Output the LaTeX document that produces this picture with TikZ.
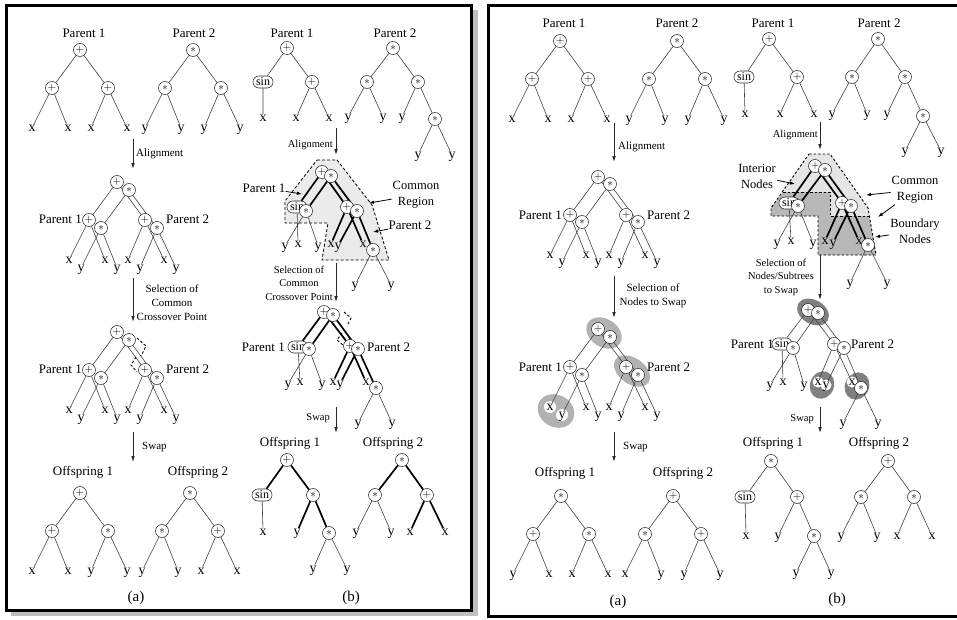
\documentclass[tikz,border=0pt]{standalone}
\usepackage{fontspec}
\setmainfont{Liberation Serif}
\usetikzlibrary{arrows.meta,calc,shapes.misc}
\pgfdeclarelayer{shade}
\pgfdeclarelayer{wires}
\pgfsetlayers{shade,wires,main}

\newcommand\Pl{$+$}
\newcommand\As{$\ast$}

\tikzset{
  op/.style={circle,draw=black!85,fill=white,line width=0.55pt,inner sep=0pt,minimum size=13pt,font=\fontsize{11}{11}\selectfont},
  sinop/.style={rounded rectangle,draw=black!85,fill=white,line width=0.55pt,inner xsep=1.5pt,inner ysep=0pt,minimum height=12pt,minimum width=20pt,font=\fontsize{12}{12}\selectfont},
  lf/.style={inner sep=0.8pt,text height=6pt,text depth=0pt,font=\fontsize{14}{14}\selectfont},
  ttl/.style={inner sep=0pt,font=\fontsize{13}{15}\selectfont},
  panelcap/.style={inner sep=0pt,font=\fontsize{15}{17}\selectfont},
  stepnote/.style={inner sep=0pt,align=center,font=\fontsize{11}{14}\selectfont},
  stepnoteb/.style={inner sep=0pt,align=center,font=\fontsize{10.5}{13.5}\selectfont},
  annot/.style={inner sep=1pt,align=center,font=\fontsize{12.5}{16}\selectfont},
  ln/.style={draw=black!75,line width=0.6pt},
  heavy/.style={draw=black,line width=1.7pt},
  stagearrow/.style={draw=black!85,line width=0.8pt,-{Latex[length=6pt,width=3.6pt]}},
  pointer/.style={draw=black,line width=0.8pt,-{Latex[length=5pt,width=3.5pt]}},
  commonreg/.style={fill=black!8,draw=black,line width=0.8pt,dash pattern=on 3pt off 2pt},
  crossmark/.style={draw=black,line width=0.9pt,dash pattern=on 2.5pt off 2pt},
  selA/.style={fill=black!30},
  selB/.style={fill=black!50},
}

% full binary tree of depth two: prefix, root x, root y, three operators, four leaves
\newcommand\stdleaves[7]{%
  \node[lf] (#1l1) at ($(#2,#3)+(-48,78)$) {#4};
  \node[lf] (#1l2) at ($(#2,#3)+(-12,78)$) {#5};
  \node[lf] (#1l3) at ($(#2,#3)+(11,78)$) {#6};
  \node[lf] (#1l4) at ($(#2,#3)+(47,78)$) {#7};
}
\newcommand\stdtree[7]{%
  \node[op] (#1r) at (#2,#3) {#4};
  \node[op] (#1a) at ($(#2,#3)+(-28,38)$) {#5};
  \node[op] (#1b) at ($(#2,#3)+(28,38)$) {#6};
  \stdleaves{#1}{#2}{#3}#7
  \begin{pgfonlayer}{wires}
    \draw[ln] (#1r)--(#1a) (#1r)--(#1b) (#1a)--(#1l1) (#1a)--(#1l2) (#1b)--(#1l3) (#1b)--(#1l4);
  \end{pgfonlayer}
}

\begin{document}
\begin{tikzpicture}[x=1pt,y=-1pt]
\useasboundingbox (0,0) rectangle (957,619);

% ---------- panel frames ----------
\fill[black!25] (473,10) rectangle (478,615);
\fill[black!25] (11,611.5) rectangle (478,616);
\draw[line width=3pt] (6.5,5.5) rectangle (471.5,610);
\draw[line width=3pt] (962,5.5) -- (488.5,5.5) -- (488.5,616.5) -- (962,616.5);

% =====================================================
% Left panel, column (a)
% =====================================================
\node[ttl] (la1t1) at (84,33) {Parent 1};
\node[ttl] (la1t2) at (194,33) {Parent 2};
\stdtree{la1p}{80}{50}{\Pl}{\Pl}{\Pl}{{x}{x}{x}{x}}
\stdtree{la1q}{193}{50}{\As}{\As}{\As}{{y}{y}{y}{y}}

\coordinate (laA1) at (133,139); \coordinate (laA2) at (133,169);
\draw[stagearrow] (laA1) -- (laA2);
\node[stepnote,anchor=west] (laAl) at (136,154) {Alignment};

\stdtree{la2p}{117}{182}{\Pl}{\Pl}{\Pl}{{x}{x}{x}{x}}
\stdtree{la2q}{129}{190}{\As}{\As}{\As}{{y}{y}{y}{y}}
\node[ttl,anchor=east] (la2t1) at (82,219) {Parent 1};
\node[ttl,anchor=west] (la2t2) at (166,219) {Parent 2};

\coordinate (laB1) at (133,278); \coordinate (laB2) at (133,322);
\draw[stagearrow] (laB1) -- (laB2);
\node[stepnote] (laBl) at (172,303) {Selection of\\Common\\Crossover Point};

\stdtree{la3p}{117}{332}{\Pl}{\Pl}{\Pl}{{x}{x}{x}{x}}
\stdtree{la3q}{129}{340}{\As}{\As}{\As}{{y}{y}{y}{y}}
\node[ttl,anchor=east] (la3t1) at (82,369) {Parent 1};
\node[ttl,anchor=west] (la3t2) at (166,369) {Parent 2};
\draw[crossmark] (137,338) -- (146,346) -- (141,356);
\draw[crossmark] (136,357) -- (131,365) -- (137,372);

\coordinate (laC1) at (133,432); \coordinate (laC2) at (133,462);
\draw[stagearrow] (laC1) -- (laC2);
\node[stepnote,anchor=west] (laCl) at (142,447) {Swap};

\node[ttl] (la4t1) at (83,472) {Offspring 1};
\node[ttl] (la4t2) at (198,472) {Offspring 2};
\stdtree{la4p}{80}{493}{\Pl}{\Pl}{\As}{{x}{x}{y}{y}}
\stdtree{la4q}{190}{493}{\As}{\As}{\Pl}{{y}{y}{x}{x}}
\node[panelcap] (laCap) at (136,598) {(a)};

% =====================================================
% Left panel, column (b)
% =====================================================
\node[ttl] (lb1t1) at (292,33) {Parent 1};
\node[ttl] (lb1t2) at (395,33) {Parent 2};
\node[op] (lb1pr) at (287,48) {\Pl};
\node[sinop] (lb1ps) at (263,82) {sin};
\node[op] (lb1pb) at (312,82) {\Pl};
\node[lf] (lb1px1) at (263,118) {x};
\node[lf] (lb1px2) at (296,118) {x};
\node[lf] (lb1px3) at (329,118) {x};
\node[op] (lb1qr) at (393,48) {\As};
\node[op] (lb1qa) at (367,82) {\As};
\node[op] (lb1qb) at (418,82) {\As};
\node[op] (lb1qc) at (435,119) {\As};
\node[lf] (lb1qy1) at (348,117) {y};
\node[lf] (lb1qy2) at (383,117) {y};
\node[lf] (lb1qy3) at (402,117) {y};
\node[lf] (lb1qy4) at (418,155) {y};
\node[lf] (lb1qy5) at (452,155) {y};
\begin{pgfonlayer}{wires}
\draw[ln] (lb1pr)--(lb1ps) (lb1pr)--(lb1pb) (lb1ps)--(lb1px1) (lb1pb)--(lb1px2) (lb1pb)--(lb1px3)
  (lb1qr)--(lb1qa) (lb1qr)--(lb1qb) (lb1qa)--(lb1qy1) (lb1qa)--(lb1qy2) (lb1qb)--(lb1qy3)
  (lb1qb)--(lb1qc) (lb1qc)--(lb1qy4) (lb1qc)--(lb1qy5);
\end{pgfonlayer}

\coordinate (lbA1) at (336,128); \coordinate (lbA2) at (336,155);
\draw[stagearrow] (lbA1) -- (lbA2);
\node[stepnoteb,anchor=east] (lbAl) at (333,145) {Alignment};

% aligned parents with the common region
\begin{pgfonlayer}{shade}
\filldraw[commonreg] (317,160) -- (337,160) -- (372,205) -- (389,260) -- (322,260) -- (328,223)
  -- (285,223) -- (285,201) -- cycle;
\end{pgfonlayer}
\node[op] (lb2pr) at (322,172) {\Pl};
\node[sinop] (lb2ps) at (297,207) {sin};
\node[op] (lb2pb) at (347,207) {\Pl};
\node[lf] (lb2px1) at (298,244) {x};
\node[lf] (lb2px2) at (331,244) {x};
\node[lf] (lb2px3) at (363,244) {x};
\node[op] (lb2qr) at (331,176) {\As};
\node[op] (lb2qa) at (306,211) {\As};
\node[op] (lb2qb) at (357,211) {\As};
\node[op] (lb2qc) at (373,250) {\As};
\node[lf] (lb2qy1) at (285,246) {y};
\node[lf] (lb2qy2) at (318,246) {y};
\node[lf] (lb2qy3) at (338,246) {y};
\node[lf] (lb2qy4) at (355,285) {y};
\node[lf] (lb2qy5) at (391,285) {y};
\begin{pgfonlayer}{wires}
\draw[ln] (lb2ps)--(lb2px1) (lb2qa)--(lb2qy1) (lb2qa)--(lb2qy2) (lb2qc)--(lb2qy4) (lb2qc)--(lb2qy5);
\draw[heavy] (lb2pr)--(lb2ps) (lb2pr)--(lb2pb) (lb2pb)--(lb2px2) (lb2pb)--(lb2px3)
  (lb2qr)--(lb2qa) (lb2qr)--(lb2qb) (lb2qb)--(lb2qy3) (lb2qb)--(lb2qc);
\end{pgfonlayer}
\node[ttl] (lb2n1) at (264,188) {Parent 1};
\coordinate (lb2n1t) at (302,194);
\draw[pointer] (lb2n1) -- (lb2n1t);
\node[annot] (lb2n2) at (416,195) {Common\\Region};
\coordinate (lb2n2t) at (369,203);
\draw[pointer] (lb2n2) -- (lb2n2t);
\node[ttl] (lb2n3) at (410,225) {Parent 2};
\coordinate (lb2n3t) at (373,232);
\draw[pointer] (lb2n3) -- (lb2n3t);

\coordinate (lbB1) at (336,263); \coordinate (lbB2) at (336,302);
\draw[stagearrow] (lbB1) -- (lbB2);
\node[stepnoteb] (lbBl) at (299,283) {Selection of\\Common\\Crossover Point};

% crossover point chosen
\node[op] (lb3pr) at (324,312) {\Pl};
\node[sinop] (lb3ps) at (298,347) {sin};
\node[op] (lb3pb) at (350,346) {\Pl};
\node[lf] (lb3px1) at (300,382) {x};
\node[lf] (lb3px2) at (333,382) {x};
\node[lf] (lb3px3) at (366,382) {x};
\node[op] (lb3qr) at (333,315) {\As};
\node[op] (lb3qa) at (309,349) {\As};
\node[op] (lb3qb) at (358,349) {\As};
\node[op] (lb3qc) at (376,388) {\As};
\node[lf] (lb3qy1) at (288,384) {y};
\node[lf] (lb3qy2) at (322,384) {y};
\node[lf] (lb3qy3) at (340,384) {y};
\node[lf] (lb3qy4) at (358,423) {y};
\node[lf] (lb3qy5) at (392,423) {y};
\begin{pgfonlayer}{wires}
\draw[ln] (lb3ps)--(lb3px1) (lb3qa)--(lb3qy1) (lb3qa)--(lb3qy2) (lb3qc)--(lb3qy4) (lb3qc)--(lb3qy5);
\draw[heavy] (lb3pr)--(lb3ps) (lb3pr)--(lb3pb) (lb3pb)--(lb3px2) (lb3pb)--(lb3px3)
  (lb3qr)--(lb3qa) (lb3qr)--(lb3qb) (lb3qb)--(lb3qy3) (lb3qb)--(lb3qc);
\end{pgfonlayer}
\node[ttl,anchor=east] (lb3t1) at (285,347) {Parent 1};
\node[ttl,anchor=west] (lb3t2) at (367,347) {Parent 2};
\draw[crossmark] (344,312) -- (351,318) -- (347,326);
\draw[crossmark] (342,333) -- (337,340) -- (343,345);

\coordinate (lbC1) at (336,407); \coordinate (lbC2) at (336,433);
\draw[stagearrow] (lbC1) -- (lbC2);
\node[stepnoteb,anchor=east] (lbCl) at (330,418) {Swap};

\node[ttl] (lb4t1) at (290,443) {Offspring 1};
\node[ttl] (lb4t2) at (393,443) {Offspring 2};
\node[op] (lb4pr) at (287,460) {\Pl};
\node[sinop] (lb4ps) at (262,495) {sin};
\node[op] (lb4pb) at (313,495) {\As};
\node[lf] (lb4px) at (263,532) {x};
\node[lf] (lb4py1) at (297,532) {y};
\node[op] (lb4pc) at (329,533) {\As};
\node[lf] (lb4py2) at (313,569) {y};
\node[lf] (lb4py3) at (347,569) {y};
\node[op] (lb4qr) at (402,460) {\As};
\node[op] (lb4qa) at (375,495) {\As};
\node[op] (lb4qb) at (427,495) {\Pl};
\node[lf] (lb4qy1) at (356,532) {y};
\node[lf] (lb4qy2) at (391,532) {y};
\node[lf] (lb4qx1) at (410,532) {x};
\node[lf] (lb4qx2) at (445,532) {x};
\begin{pgfonlayer}{wires}
\draw[ln] (lb4ps)--(lb4px) (lb4pc)--(lb4py2) (lb4pc)--(lb4py3) (lb4qa)--(lb4qy1) (lb4qa)--(lb4qy2);
\draw[heavy] (lb4pr)--(lb4ps) (lb4pr)--(lb4pb) (lb4pb)--(lb4py1) (lb4pb)--(lb4pc)
  (lb4qr)--(lb4qa) (lb4qr)--(lb4qb) (lb4qb)--(lb4qx1) (lb4qb)--(lb4qx2);
\end{pgfonlayer}
\node[panelcap] (lbCap) at (351,598) {(b)};

% =====================================================
% Right panel, column (a)
% =====================================================
\node[ttl] (ra1t1) at (564,23) {Parent 1};
\node[ttl] (ra1t2) at (677,23) {Parent 2};
\stdtree{ra1p}{560}{41}{\Pl}{\Pl}{\Pl}{{x}{x}{x}{x}}
\stdtree{ra1q}{677}{41}{\As}{\As}{\As}{{y}{y}{y}{y}}

\coordinate (raA1) at (614,123); \coordinate (raA2) at (614,162);
\draw[stagearrow] (raA1) -- (raA2);
\node[stepnote,anchor=west] (raAl) at (618,147) {Alignment};

\stdtree{ra2p}{598}{177}{\Pl}{\Pl}{\Pl}{{x}{x}{x}{x}}
\stdtree{ra2q}{610}{184}{\As}{\As}{\As}{{y}{y}{y}{y}}
\node[ttl,anchor=east] (ra2t1) at (562,215) {Parent 1};
\node[ttl,anchor=west] (ra2t2) at (647,215) {Parent 2};

\coordinate (raB1) at (614,276); \coordinate (raB2) at (614,318);
\draw[stagearrow] (raB1) -- (raB2);
\node[stepnote] (raBl) at (653,296) {Selection of\\Nodes to Swap};

% nodes picked for swapping
\begin{pgfonlayer}{shade}
\fill[selA,rotate around={-33:(604,333)}] (604,333) ellipse [x radius=19pt,y radius=14pt];
\fill[selA,rotate around={-35:(632,371)}] (632,371) ellipse [x radius=20pt,y radius=13pt];
\fill[selA,rotate around={-30:(556,411)}] (556,411) ellipse [x radius=19pt,y radius=16pt];
\fill[white] (550,407) circle (6pt) (562,415) circle (6pt);
\end{pgfonlayer}
\stdtree{ra3p}{598}{329}{\Pl}{\Pl}{\Pl}{{x}{x}{x}{x}}
\stdtree{ra3q}{610}{337}{\As}{\As}{\As}{{y}{y}{y}{y}}
\node[ttl,anchor=east] (ra3t1) at (562,367) {Parent 1};
\node[ttl,anchor=west] (ra3t2) at (647,367) {Parent 2};

\coordinate (raC1) at (614,432); \coordinate (raC2) at (614,462);
\draw[stagearrow] (raC1) -- (raC2);
\node[stepnote,anchor=west] (raCl) at (623,447) {Swap};

\node[ttl] (ra4t1) at (565,473) {Offspring 1};
\node[ttl] (ra4t2) at (683,473) {Offspring 2};
\stdtree{ra4p}{561}{496}{\As}{\Pl}{\As}{{y}{x}{x}{x}}
\stdtree{ra4q}{673}{496}{\Pl}{\As}{\Pl}{{x}{y}{y}{y}}
\node[panelcap] (raCap) at (618,602) {(a)};

% =====================================================
% Right panel, column (b)
% =====================================================
\node[ttl] (rb1t1) at (773,23) {Parent 1};
\node[ttl] (rb1t2) at (879,23) {Parent 2};
\node[op] (rb1pr) at (769,39) {\Pl};
\node[sinop] (rb1ps) at (744,77) {sin};
\node[op] (rb1pb) at (797,77) {\Pl};
\node[lf] (rb1px1) at (745,114) {x};
\node[lf] (rb1px2) at (780,114) {x};
\node[lf] (rb1px3) at (814,114) {x};
\node[op] (rb1qr) at (878,39) {\As};
\node[op] (rb1qa) at (852,77) {\As};
\node[op] (rb1qb) at (905,77) {\As};
\node[op] (rb1qc) at (923,116) {\As};
\node[lf] (rb1qy1) at (832,114) {y};
\node[lf] (rb1qy2) at (867,114) {y};
\node[lf] (rb1qy3) at (887,114) {y};
\node[lf] (rb1qy4) at (905,151) {y};
\node[lf] (rb1qy5) at (941,151) {y};
\begin{pgfonlayer}{wires}
\draw[ln] (rb1pr)--(rb1ps) (rb1pr)--(rb1pb) (rb1ps)--(rb1px1) (rb1pb)--(rb1px2) (rb1pb)--(rb1px3)
  (rb1qr)--(rb1qa) (rb1qr)--(rb1qb) (rb1qa)--(rb1qy1) (rb1qa)--(rb1qy2) (rb1qb)--(rb1qy3)
  (rb1qb)--(rb1qc) (rb1qc)--(rb1qy4) (rb1qc)--(rb1qy5);
\end{pgfonlayer}

\coordinate (rbA1) at (820,122); \coordinate (rbA2) at (820,150);
\draw[stagearrow] (rbA1) -- (rbA2);
\node[stepnoteb,anchor=east] (rbAl) at (818,135) {Alignment};

% common region split into interior and boundary parts
\begin{pgfonlayer}{shade}
\fill[black!10] (809,154) -- (830,154) -- (868,208) -- (876,255) -- (818,255) -- (818,216)
  -- (771,216) -- (771,208) -- cycle;
\fill[black!28] (783,192) -- (830,192) -- (830,216) -- (771,216) -- (771,208) -- cycle;
\fill[black!28] (818,216) -- (869,216) -- (876,255) -- (818,255) -- cycle;
\draw[crossmark] (809,154) -- (830,154) -- (868,208) -- (876,255) -- (818,255) -- (818,216)
  -- (771,216) -- (771,208) -- cycle;
\draw[crossmark] (783,192) -- (830,192) -- (830,216) -- (869,216);
\end{pgfonlayer}
\node[op] (rb2pr) at (815,166) {\Pl};
\node[sinop] (rb2ps) at (789,203) {sin};
\node[op] (rb2pb) at (842,203) {\Pl};
\node[lf] (rb2px1) at (791,241) {x};
\node[lf] (rb2px2) at (825,241) {x};
\node[lf] (rb2px3) at (859,241) {x};
\node[op] (rb2qr) at (825,170) {\As};
\node[op] (rb2qa) at (798,206) {\As};
\node[op] (rb2qb) at (851,206) {\As};
\node[op] (rb2qc) at (868,245) {\As};
\node[lf] (rb2qy1) at (777,243) {y};
\node[lf] (rb2qy2) at (813,243) {y};
\node[lf] (rb2qy3) at (833,243) {y};
\node[lf] (rb2qy4) at (850,283) {y};
\node[lf] (rb2qy5) at (887,283) {y};
\begin{pgfonlayer}{wires}
\draw[ln] (rb2ps)--(rb2px1) (rb2qa)--(rb2qy1) (rb2qa)--(rb2qy2) (rb2qc)--(rb2qy4) (rb2qc)--(rb2qy5);
\draw[heavy] (rb2pr)--(rb2ps) (rb2pr)--(rb2pb) (rb2pb)--(rb2px2) (rb2pb)--(rb2px3)
  (rb2qr)--(rb2qa) (rb2qr)--(rb2qb) (rb2qb)--(rb2qy3) (rb2qb)--(rb2qc);
\end{pgfonlayer}
\node[annot] (rb2n1) at (757,176) {Interior\\Nodes};
\coordinate (rb2n1t) at (795,184);
\draw[pointer] (rb2n1) -- (rb2n1t);
\node[annot] (rb2n2) at (915,190) {Common\\Region};
\coordinate (rb2n2t) at (866,195);
\coordinate (rb2n2u) at (878,217);
\draw[pointer] (rb2n2) -- (rb2n2t);
\draw[pointer] (rb2n2) -- (rb2n2u);
\node[annot] (rb2n3) at (915,231) {Boundary\\Nodes};
\coordinate (rb2n3t) at (875,237);
\draw[pointer] (rb2n3) -- (rb2n3t);

\coordinate (rbB1) at (820,255); \coordinate (rbB2) at (820,300);
\draw[stagearrow] (rbB1) -- (rbB2);
\node[stepnoteb] (rbBl) at (781,277) {Selection of\\Nodes/Subtrees\\to Swap};

% nodes and subtrees picked for swapping
\begin{pgfonlayer}{shade}
\fill[selB,rotate around={-30:(813,312)}] (813,312) ellipse [x radius=17pt,y radius=12pt];
\fill[selB,rotate around={-20:(822,385)}] (822,385) ellipse [x radius=12pt,y radius=14pt];
\fill[selB,rotate around={-25:(857,386)}] (857,386) ellipse [x radius=12pt,y radius=14pt];
\fill[white] (818,382) circle (5.5pt) (826,385) circle (5.5pt) (852,382) circle (5.5pt);
\end{pgfonlayer}
\node[op] (rb3pr) at (808,310) {\Pl};
\node[sinop] (rb3ps) at (782,344) {sin};
\node[op] (rb3pb) at (834,344) {\Pl};
\node[lf] (rb3px1) at (783,382) {x};
\node[lf] (rb3px2) at (818,382) {x};
\node[lf] (rb3px3) at (852,382) {x};
\node[op] (rb3qr) at (818,313) {\As};
\node[op] (rb3qa) at (793,348) {\As};
\node[op] (rb3qb) at (844,348) {\As};
\node[op] (rb3qc) at (861,388) {\As};
\node[lf] (rb3qy1) at (770,385) {y};
\node[lf] (rb3qy2) at (804,385) {y};
\node[lf] (rb3qy3) at (826,385) {y};
\node[lf] (rb3qy4) at (843,423) {y};
\node[lf] (rb3qy5) at (878,423) {y};
\begin{pgfonlayer}{wires}
\draw[ln] (rb3pr)--(rb3ps) (rb3pr)--(rb3pb) (rb3ps)--(rb3px1) (rb3pb)--(rb3px2) (rb3pb)--(rb3px3)
  (rb3qr)--(rb3qa) (rb3qr)--(rb3qb) (rb3qa)--(rb3qy1) (rb3qa)--(rb3qy2) (rb3qb)--(rb3qy3)
  (rb3qb)--(rb3qc) (rb3qc)--(rb3qy4) (rb3qc)--(rb3qy5);
\end{pgfonlayer}
\node[ttl,anchor=east] (rb3t1) at (774,344) {Parent 1};
\node[ttl,anchor=west] (rb3t2) at (851,344) {Parent 2};

\coordinate (rbC1) at (820,407); \coordinate (rbC2) at (820,433);
\draw[stagearrow] (rbC1) -- (rbC2);
\node[stepnoteb,anchor=east] (rbCl) at (814,419) {Swap};

\node[ttl] (rb4t1) at (773,443) {Offspring 1};
\node[ttl] (rb4t2) at (879,443) {Offspring 2};
\node[op] (rb4pr) at (771,461) {\As};
\node[sinop] (rb4ps) at (745,497) {sin};
\node[op] (rb4pb) at (797,497) {\Pl};
\node[lf] (rb4px) at (746,536) {x};
\node[lf] (rb4py1) at (778,536) {y};
\node[op] (rb4pc) at (814,536) {\As};
\node[lf] (rb4py2) at (796,573) {y};
\node[lf] (rb4py3) at (831,573) {y};
\node[op] (rb4qr) at (888,461) {\Pl};
\node[op] (rb4qa) at (861,497) {\As};
\node[op] (rb4qb) at (914,497) {\As};
\node[lf] (rb4qy1) at (841,536) {y};
\node[lf] (rb4qy2) at (877,536) {y};
\node[lf] (rb4qx1) at (897,536) {x};
\node[lf] (rb4qx2) at (932,536) {x};
\begin{pgfonlayer}{wires}
\draw[ln] (rb4pr)--(rb4ps) (rb4pr)--(rb4pb) (rb4ps)--(rb4px) (rb4pb)--(rb4py1) (rb4pb)--(rb4pc)
  (rb4pc)--(rb4py2) (rb4pc)--(rb4py3) (rb4qr)--(rb4qa) (rb4qr)--(rb4qb) (rb4qa)--(rb4qy1)
  (rb4qa)--(rb4qy2) (rb4qb)--(rb4qx1) (rb4qb)--(rb4qx2);
\end{pgfonlayer}
\node[panelcap] (rbCap) at (837,600) {(b)};

\end{tikzpicture}
\end{document}
